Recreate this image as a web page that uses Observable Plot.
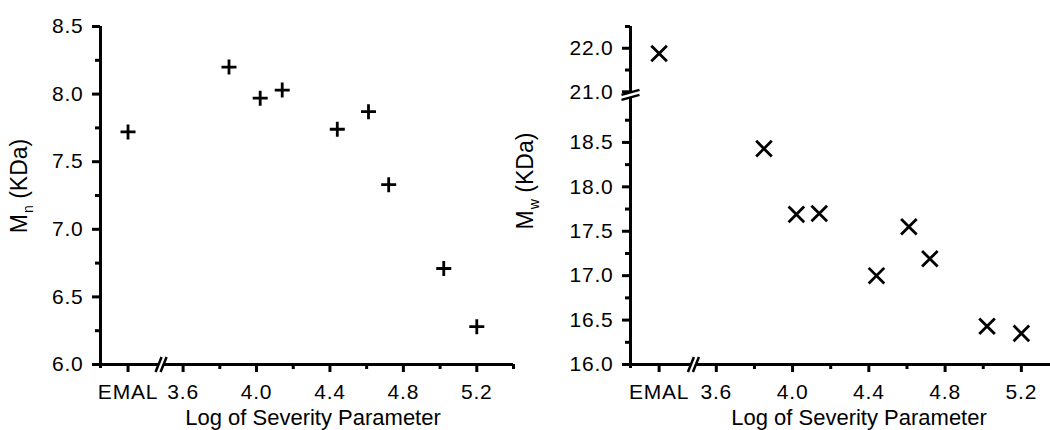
<!DOCTYPE html>
<html>
<head>
<meta charset="utf-8">
<script src="https://cdn.jsdelivr.net/npm/d3@7"></script>
<script src="https://cdn.jsdelivr.net/npm/@observablehq/plot@0.6"></script>
<style>
  html, body { margin: 0; padding: 0; background: #fff; overflow: hidden; }
  #wrap { position: relative; width: 1050px; height: 430px; overflow: hidden; background: #fff; }
  #mn, #mw { position: absolute; top: 0; }
  #mn { left: 0; }
  #mw { left: 515px; }
  g[aria-label$="tick label"] text { letter-spacing: 0.8px; }
</style>
</head>
<body>
<div id="wrap"><div id="mn"></div><div id="mw"></div></div>
<script>
// Untreated EMAL reference first, then the log severity of each pretreatment
const severity = ["EMAL", 3.85, 4.02, 4.14, 4.44, 4.61, 4.72, 5.02, 5.20];
// Number-average molecular weight (KDa)
const mnValues = [7.72, 8.20, 7.97, 8.03, 7.74, 7.87, 7.33, 6.71, 6.28];
// Weight-average molecular weight (KDa)
const mwValues = [21.88, 18.43, 17.69, 17.70, 17.00, 17.55, 17.19, 16.43, 16.35];

// Tick values
const xTickValues = [3.6, 4.0, 4.4, 4.8, 5.2];
const xMinorValues = [3.8, 4.2, 4.6, 5.0, 5.4];
const mnTickValues = [6.0, 6.5, 7.0, 7.5, 8.0, 8.5];
const mnMinorValues = [6.25, 6.75, 7.25, 7.75, 8.25];
const mwTickValues = [16.0, 16.5, 17.0, 17.5, 18.0, 18.5, 21.0, 22.0];
const mwMinorValues = [16.25, 16.75, 17.25, 17.75, 18.25, 18.75, 21.5, 22.5];

// Axis layout: the EMAL category sits left of a break in the severity axis
const X_DOMAIN = [3.15, 5.4];
const EMAL_AT = 3.3;
const X_BREAK = 3.48;

// The Mw axis skips 19–21 KDa; above the gap it is compressed
const MW_GAP = [19, 21];
const MW_GAP_SPAN = 0.07;     // width of the break, in lower-axis units
const MW_UPPER_RATIO = 0.49;  // upper segment scale relative to the lower one
const MW_TOP = 22.5;
const mwPos = v => v <= MW_GAP[0] ? v : MW_GAP[0] + MW_GAP_SPAN + (v - MW_GAP[1]) * MW_UPPER_RATIO;
const mwValue = p => p <= MW_GAP[0] + 1e-9 ? p : MW_GAP[1] + (p - MW_GAP[0] - MW_GAP_SPAN) / MW_UPPER_RATIO;

const rows = severity.map((s, i) => ({
  x: s === "EMAL" ? EMAL_AT : s,
  mn: mnValues[i],
  mw: mwValues[i]
}));

const FONT = "'Liberation Sans', Arial, Helvetica, sans-serif";
const HEIGHT = 430, M_TOP = 26, M_BOTTOM = 66;
const TICK = 8, MINOR = 5, AXIS_W = 3;

// "//" break on the horizontal axis
const xBreakLines = {draw(ctx) {
  ctx.moveTo(-5.5, 7.5); ctx.lineTo(0.5, -7.5);
  ctx.moveTo(-0.5, 7.5); ctx.lineTo(5.5, -7.5);
}};
const xBreakMask = {draw(ctx) {
  ctx.moveTo(-5.5, 7.5); ctx.lineTo(-0.5, 7.5); ctx.lineTo(5.5, -7.5); ctx.lineTo(0.5, -7.5); ctx.closePath();
}};
// slanted "=" break on the vertical axis
const yBreakLines = {draw(ctx) {
  ctx.moveTo(-9, 0); ctx.lineTo(9, -5);
  ctx.moveTo(-9, 5); ctx.lineTo(9, 0);
}};
const yBreakMask = {draw(ctx) {
  ctx.moveTo(-9, 0); ctx.lineTo(9, -5); ctx.lineTo(9, 0); ctx.lineTo(-9, 5); ctx.closePath();
}};

// Axis lines, outward ticks and labels for one panel
function frameMarks(yMin, yMajor, yMinor, yFormat) {
  const x0 = X_DOMAIN[0];
  return [
    Plot.ruleY([yMin], {strokeWidth: AXIS_W}),
    Plot.ruleX([x0], {strokeWidth: AXIS_W, insetBottom: -4}),
    // x ticks (downward)
    Plot.ruleX([EMAL_AT, ...xTickValues], {x: d => d, y1: yMin, y2: yMin, insetBottom: -TICK, strokeWidth: AXIS_W}),
    Plot.ruleX(xMinorValues, {x: d => d, y1: yMin, y2: yMin, insetBottom: -MINOR, strokeWidth: AXIS_W}),
    // y ticks (leftward)
    Plot.ruleY(yMajor, {y: d => d, x1: x0, x2: x0, insetLeft: -TICK, strokeWidth: AXIS_W}),
    Plot.ruleY(yMinor, {y: d => d, x1: x0, x2: x0, insetLeft: -MINOR, strokeWidth: AXIS_W}),
    Plot.axisX({
      ticks: [EMAL_AT, ...xTickValues], tickSize: 0, tickPadding: 20, fontSize: 21, label: null,
      tickFormat: d => d === EMAL_AT ? "EMAL" : d.toFixed(1)
    }),
    Plot.axisY({ticks: yMajor, tickSize: 0, tickPadding: 17, fontSize: 21, label: null, tickFormat: yFormat}),
    // break on the x axis
    Plot.dot([{x: X_BREAK, y: yMin}], {x: "x", y: "y", symbol: xBreakMask, fill: "white", stroke: "none", r: 5}),
    Plot.dot([{x: X_BREAK, y: yMin}], {x: "x", y: "y", symbol: xBreakLines, fill: "none", stroke: "black", strokeWidth: 2.5, r: 5})
  ];
}

function svgStyle() {
  return {fontFamily: FONT, fontSize: "21px", background: "white", maxWidth: "none", overflow: "visible"};
}

function addYTitle(svg, x, y, sub) {
  const t = d3.select(svg).append("text")
    .attr("transform", `translate(${x},${y}) rotate(-90)`)
    .attr("text-anchor", "middle")
    .attr("font-family", FONT)
    .attr("font-size", 23)
    .attr("fill", "black");
  t.append("tspan").text("M");
  t.append("tspan").attr("font-size", 14).attr("dy", 6).attr("dx", 1).text(sub);
  t.append("tspan").attr("dy", -6).text(" (KDa)");
}

function xTitle(dy, dx) {
  return Plot.text(["Log of Severity Parameter"], {
    frameAnchor: "bottom", text: d => d, lineAnchor: "top", dy, dx, fontSize: 22, fill: "black"
  });
}

// Left panel: Mn
const mnPlot = Plot.plot({
  width: 515, height: HEIGHT,
  marginTop: M_TOP, marginBottom: M_BOTTOM, marginLeft: 100, marginRight: 2,
  style: svgStyle(),
  x: {domain: X_DOMAIN},
  y: {domain: [mnTickValues[0], mnTickValues[mnTickValues.length - 1]]},
  marks: [
    ...frameMarks(mnTickValues[0], mnTickValues, mnMinorValues, d => d.toFixed(1)),
    Plot.dot(rows, {x: "x", y: "mn", symbol: "plus", r: 4.9, stroke: "black", strokeWidth: 2.8}),
    xTitle(45, 6)
  ]
});
addYTitle(mnPlot, 27, 186, "n");
document.getElementById("mn").appendChild(mnPlot);

// Right panel: Mw, with a broken vertical axis
const mwGapMid = (MW_GAP[0] + mwPos(MW_GAP[1])) / 2;
const mwPlot = Plot.plot({
  width: 555, height: HEIGHT,
  marginTop: M_TOP, marginBottom: M_BOTTOM, marginLeft: 115, marginRight: 11,
  style: svgStyle(),
  x: {domain: X_DOMAIN},
  y: {domain: [mwTickValues[0], mwPos(MW_TOP)]},
  marks: [
    ...frameMarks(mwTickValues[0], mwTickValues.map(mwPos), mwMinorValues.map(mwPos), d => mwValue(d).toFixed(1)),
    Plot.dot([{x: X_DOMAIN[0], y: mwGapMid}], {x: "x", y: "y", symbol: yBreakMask, fill: "white", stroke: "none", r: 5}),
    Plot.dot([{x: X_DOMAIN[0], y: mwGapMid}], {x: "x", y: "y", symbol: yBreakLines, fill: "none", stroke: "black", strokeWidth: 2.5, r: 5}),
    Plot.dot(rows, {x: "x", y: d => mwPos(d.mw), symbol: "times", r: 7.15, stroke: "black", strokeWidth: 2.8}),
    xTitle(45, 14)
  ]
});
addYTitle(mwPlot, 18, 181, "w");
document.getElementById("mw").appendChild(mwPlot);
</script>
</body>
</html>
